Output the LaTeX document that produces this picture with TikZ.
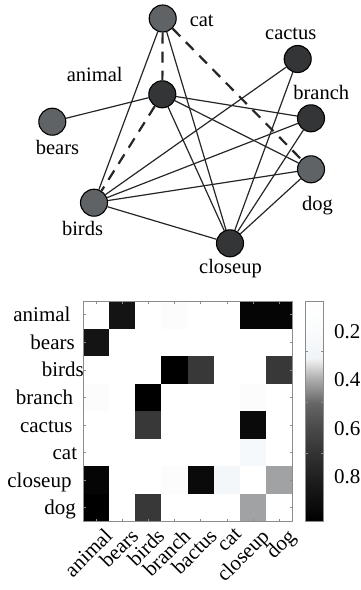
\documentclass[tikz,border=0pt]{standalone}
\usepackage{fontspec}
\setmainfont{Liberation Serif}
\usetikzlibrary{backgrounds}

\definecolor{nodegray}{HTML}{5F6366}
\definecolor{nodedark}{HTML}{333537}
\definecolor{frame}{HTML}{8C8C8C}
\definecolor{v00}{HTML}{000000}
\definecolor{v05}{HTML}{050505}
\definecolor{v0a}{HTML}{0A0A0A}
\definecolor{v14}{HTML}{141414}
\definecolor{v38}{HTML}{383838}
\definecolor{va0}{HTML}{A0A2A4}
\definecolor{vf4}{HTML}{F3F7FA}
\definecolor{vf7}{HTML}{F6F9FC}
\definecolor{vfc}{HTML}{FCFCFC}
\definecolor{cbblue}{HTML}{F0F4F7}
\definecolor{cbpale}{HTML}{FAFCFD}

% grey colour scale of the bar, light at the top, black at the bottom;
% TikZ fits the band 25bp..75bp of a 100bp shading to the shaded path
\pgfdeclareverticalshading{cbarshade}{100bp}{%
  color(0bp)=(black);
  color(25bp)=(black);
  color(34.77bp)=(black!88);
  color(40.45bp)=(black!80);
  color(46.14bp)=(black!71);
  color(51.82bp)=(black!60);
  color(53.64bp)=(black!50);
  color(57.5bp)=(black!31);
  color(61.14bp)=(black!9);
  color(62.05bp)=(cbblue);
  color(68.41bp)=(cbpale);
  color(75bp)=(white);
  color(100bp)=(white)}

% one cell of the similarity matrix: column, row, colour
\newcommand\hmcell[3]{%
  \fill[#3] ({83+(#1)*26.16},{301+(#2)*27.56}) rectangle ++(26.16,27.56);}

\begin{document}
\begin{tikzpicture}[x=1pt,y=-1pt,
  vert/.style={circle,draw=black,line width=1.1pt,minimum size=27pt,inner sep=0pt},
  lightv/.style={vert,fill=nodegray},
  darkv/.style={vert,fill=nodedark},
  edge/.style={line width=1.2pt,black!85},
  dashedge/.style={line width=2.2pt,dash pattern=on 11pt off 8pt,black!85},
  lbl/.style={font=\fontsize{20.5}{24}\selectfont,inner sep=0pt,anchor=base},
  hmlbl/.style={font=\fontsize{21}{24}\selectfont,inner sep=0pt},
  tick/.style={frame,line width=0.6pt}]
\useasboundingbox (0,0) rectangle (361,590);

% ---------- graph ----------
\node[lightv] (cat)     at (162.7, 18.5) {};
\node[darkv]  (cactus)  at (297.7, 59)   {};
\node[darkv]  (animal)  at (162.3, 94.3) {};
\node[darkv]  (branch)  at (311, 118.3)  {};
\node[lightv] (bears)   at (52.3, 121.7) {};
\node[lightv] (dog)     at (311, 169.3)  {};
\node[lightv] (birds)   at (94, 202.7)   {};
\node[darkv]  (closeup) at (230, 243.3)  {};

\node[lbl] (lcat)     at (201.7, 26.7)  {cat};
\node[lbl] (lcactus)  at (290.8, 39.3)  {cactus};
\node[lbl] (lanimal)  at (94.7, 81)     {animal};
\node[lbl] (lbranch)  at (321.3, 99.3)  {branch};
\node[lbl] (lbears)   at (57.5, 154)    {bears};
\node[lbl] (ldog)     at (317.5, 210.7) {dog};
\node[lbl] (lbirds)   at (82.5, 235)    {birds};
\node[lbl] (lcloseup) at (230.5, 273.3) {closeup};

\begin{scope}[on background layer]
  \draw[dashedge] (cat) -- (animal);
  \draw[dashedge] (cat) -- (dog);
  \draw[dashedge] (animal) -- (birds);
  \draw[edge] (cat) -- (birds);
  \draw[edge] (cat) -- (closeup);
  \draw[edge] (animal) -- (bears);
  \draw[edge] (animal) -- (branch);
  \draw[edge] (animal) -- (dog);
  \draw[edge] (animal) -- (closeup);
  \draw[edge] (cactus) -- (birds);
  \draw[edge] (cactus) -- (closeup);
  \draw[edge] (branch) -- (birds);
  \draw[edge] (branch) -- (closeup);
  \draw[edge] (dog) -- (birds);
  \draw[edge] (dog) -- (closeup);
  \draw[edge] (birds) -- (closeup);
\end{scope}

% ---------- matrix ----------
\hmcell{1}{0}{v14} \hmcell{3}{0}{vfc} \hmcell{6}{0}{v05} \hmcell{7}{0}{v05}
\hmcell{0}{1}{v14}
\hmcell{3}{2}{v00} \hmcell{4}{2}{v38} \hmcell{7}{2}{v38}
\hmcell{0}{3}{vfc} \hmcell{2}{3}{v00} \hmcell{6}{3}{vfc}
\hmcell{2}{4}{v38} \hmcell{6}{4}{v0a}
\hmcell{6}{5}{vf7}
\hmcell{0}{6}{v05} \hmcell{3}{6}{vfc} \hmcell{4}{6}{v0a} \hmcell{5}{6}{vf4} \hmcell{7}{6}{va0}
\hmcell{0}{7}{v00} \hmcell{2}{7}{v38} \hmcell{6}{7}{va0}

\draw[frame,line width=0.8pt] (83,301) rectangle (292.3,521.5);
\foreach \i in {0,...,7}{
  \draw[tick] ({83+(\i+0.5)*26.16},521.5) -- ++(0,-2.5);
  \draw[tick] ({83+(\i+0.5)*26.16},301) -- ++(0,2.5);
  \draw[tick] (83,{301+(\i+0.5)*27.56}) -- ++(2.5,0);
  \draw[tick] (292.3,{301+(\i+0.5)*27.56}) -- ++(-2.5,0);
}

\node[hmlbl,anchor=base east] (ranimal)  at (70.7, 321.8) {animal};
\node[hmlbl,anchor=base east] (rbears)   at (75, 349.3)   {bears};
\node[hmlbl,anchor=base east] (rbirds)   at (84, 376.9)   {birds};
\node[hmlbl,anchor=base east] (rbranch)  at (73.3, 404.4) {branch};
\node[hmlbl,anchor=base east] (rcactus)  at (72.7, 432)   {cactus};
\node[hmlbl,anchor=base east] (rcat)     at (77.3, 459.6) {cat};
\node[hmlbl,anchor=base east] (rcloseup) at (71.7, 487.1) {closeup};
\node[hmlbl,anchor=base east] (rdog)     at (76, 514.7)   {dog};

\foreach \t [count=\k from 0] in {animal,bears,birds,branch,bactus,cat,closeup,dog}
  \node[hmlbl,anchor=north east,rotate=45] (c\k) at ({83+(\k+0.5)*26.16+7},527) {\t};

% ---------- colour bar ----------
\shade[shading=cbarshade] (305.7,301) rectangle (323.3,521);
\draw[frame,line width=0.8pt] (305.7,301) rectangle (323.3,521);
\foreach \y in {351.7,402.7,453.3}{
  \draw[tick] (305.7,\y) -- ++(2.5,0);
  \draw[tick] (323.3,\y) -- ++(-2.5,0);
}
\node[hmlbl,anchor=base west] (b2) at (334, 338.3) {0.2};
\node[hmlbl,anchor=base west] (b4) at (334, 386.6) {0.4};
\node[hmlbl,anchor=base west] (b6) at (334, 435)   {0.6};
\node[hmlbl,anchor=base west] (b8) at (334, 483.3) {0.8};
\end{tikzpicture}
\end{document}
